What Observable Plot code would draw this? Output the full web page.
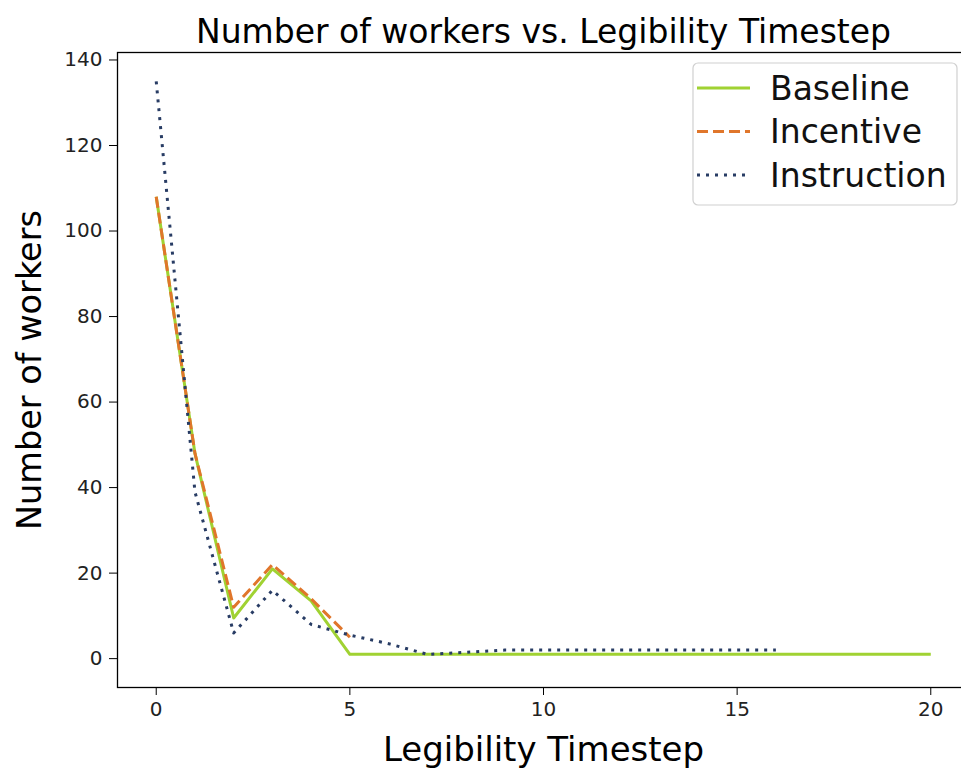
<!DOCTYPE html>
<html><head><meta charset="utf-8">
<script src="https://cdn.jsdelivr.net/npm/d3@7"></script>
<script src="https://cdn.jsdelivr.net/npm/@observablehq/plot@0.6"></script>
<style>
html,body{margin:0;padding:0;background:#fff;overflow:hidden}
#chart{width:961px;height:770px;overflow:hidden;position:relative}
#chart svg{max-width:none !important}
</style>
</head><body><div id="chart"></div>
<script>
const titleText = "Number of workers vs. Legibility Timestep";
const xLabel = "Legibility Timestep";
const yLabel = "Number of workers";
const seriesNames = ["Baseline", "Incentive", "Instruction"];
const seriesColors = ["#A0D232", "#E0762B", "#283C64"];
const seriesDash = [null, "11,5", "3,6"];
const xTicks = [0, 5, 10, 15, 20];
const yTicks = [0, 20, 40, 60, 80, 100, 120, 140];

const baselineX = [0,1,2,3,4,5,6,7,8,9,10,11,12,13,14,15,16,17,18,19,20];
const baselineY = [108,48,9.5,21,13.5,1,1,1,1,1,1,1,1,1,1,1,1,1,1,1,1];
const incentiveX = [0,1,2,3,4,5];
const incentiveY = [108,48,12,22,14,5];
const instructionX = [0,1,2,3,4,5,6,7,8,9,10,11,12,13,14,15,16];
const instructionY = [135,39,6,16,8,5.5,3.5,1,1.5,2,2,2,2,2,2,2,2];

const rows = [];
baselineX.forEach((x,i)=>rows.push({series:"Baseline", x, y:baselineY[i]}));
incentiveX.forEach((x,i)=>rows.push({series:"Incentive", x, y:incentiveY[i]}));
instructionX.forEach((x,i)=>rows.push({series:"Instruction", x, y:instructionY[i]}));

const lineMarks = seriesNames.map((s,k)=>Plot.line(rows.filter(d=>d.series===s), {
  x:"x", y:"y", stroke: seriesColors[k], strokeWidth: 3,
  strokeDasharray: seriesDash[k] || undefined, strokeLinecap: "butt", strokeLinejoin: "round"
}));

const chart = Plot.plot({
  width: 970, height: 770,
  marginLeft: 117, marginRight: 1, marginTop: 52, marginBottom: 83,
  style: {fontFamily: "DejaVu Sans", background: "white", color: "#222", maxWidth: "none"},
  x: {domain: [-1, 21]},
  y: {domain: [-6.75, 141.75]},
  marks: [
    Plot.axisX({ticks: xTicks, tickSize: 8, tickPadding: 6, fontSize: 20, label: null, tickFormat: d=>String(d), stroke:"#000"}),
    Plot.axisY({ticks: yTicks, tickSize: 8, tickPadding: 7, fontSize: 20, label: null, tickFormat: d=>String(d), stroke:"#000"}),
    ...lineMarks,
    Plot.frame({stroke: "#000", strokeWidth: 1.3}),
    Plot.text([titleText], {text: d=>d, frameAnchor: "top", lineAnchor: "bottom", dy: -10, fontSize: 33, fill: "#000"}),
    Plot.text([xLabel], {text: d=>d, frameAnchor: "bottom", textAnchor: "middle", lineAnchor: "top", dy: 49, fontSize: 34, fill: "#000"}),
    Plot.text([yLabel], {text: d=>d, frameAnchor: "left", textAnchor: "middle", lineAnchor: "middle", rotate: -90, dx: -87, fontSize: 33.5, fill: "#000"})
  ]
});
chart.style.maxWidth = "none";
document.getElementById("chart").appendChild(chart);

// legend (decoration)
const svg = d3.select(chart);
const lg = svg.append("g").attr("font-family","DejaVu Sans").attr("text-anchor","start");
lg.append("rect").attr("x",693).attr("y",63).attr("width",264).attr("height",142)
  .attr("rx",5).attr("fill","white").attr("fill-opacity",0.85).attr("stroke","#d0d0d0").attr("stroke-width",1.2);
seriesNames.forEach((s,k)=>{
  const cy = 88 + k*43.5;
  lg.append("line").attr("x1",697).attr("x2",750).attr("y1",cy).attr("y2",cy)
    .attr("stroke",seriesColors[k]).attr("stroke-width",3)
    .attr("stroke-dasharray", seriesDash[k]);
  lg.append("text").attr("x",770).attr("y",cy).attr("dy","0.36em")
    .attr("font-size",33).attr("fill","#111").text(s);
});
</script>
</body></html>
